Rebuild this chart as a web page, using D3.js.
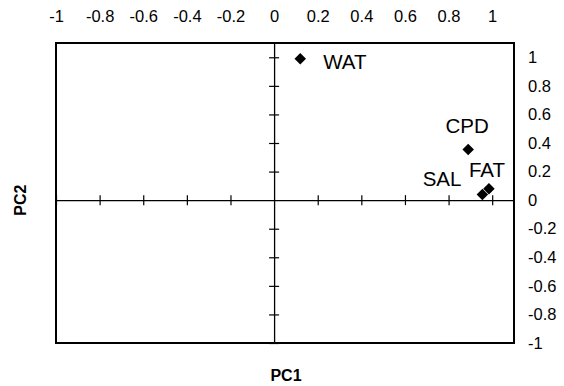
<!DOCTYPE html>
<html>
<head>
<meta charset="utf-8">
<script src="https://cdn.jsdelivr.net/npm/d3@7"></script>
<style>
  body { margin: 0; background: #fff; }
  svg text { font-family: "Liberation Sans", Arial, sans-serif; fill: #000; }
</style>
</head>
<body>
<div id="chart"></div>
<script>
// loadings on PC1 / PC2
const names = ["WAT", "CPD", "FAT", "SAL"]
const pc1 = [0.12, 0.89, 0.985, 0.955]
const pc2 = [0.99, 0.355, 0.08, 0.04]
const tickValues = [-1, -0.8, -0.6, -0.4, -0.2, 0, 0.2, 0.4, 0.6, 0.8, 1]

// where each label sits relative to its marker
const labelLayout = {
    WAT: {dx: 23, dy: 10, anchor: "start"},
    CPD: {dx: -1, dy: -16, anchor: "middle"},
    FAT: {dx: -20, dy: -12, anchor: "start"},
    SAL: {dx: -21, dy: -8, anchor: "end"}
}

const width = 564, height = 386
const margin = {top: 43, right: 50, bottom: 43, left: 56}

const svg = d3.select("#chart").append("svg")
    .attr("width", width).attr("height", height)

const x = d3.scaleLinear().domain([-1, 1.1]).range([margin.left, width - margin.right])
const y = d3.scaleLinear().domain([-1, 1.1]).range([height - margin.bottom, margin.top])

const fmt = d => String(d) // plain hyphen minus like the original

// zero axes with crossing ticks
const xZero = g => g
    .attr("transform", `translate(0,${y(0)})`)
    .call(d3.axisBottom(x).tickValues(tickValues.filter(d => d !== 0)).tickSize(5).tickSizeOuter(0).tickFormat(""))
    .call(g => g.select(".domain").attr("stroke-width", 1.3))
    .call(g => g.selectAll(".tick line").attr("y1", -5).attr("stroke-width", 1.2))

const yZero = g => g
    .attr("transform", `translate(${x(0)},0)`)
    .call(d3.axisLeft(y).tickValues(tickValues.filter(d => d !== 0)).tickSize(5).tickSizeOuter(0).tickFormat(""))
    .call(g => g.select(".domain").attr("stroke-width", 1.3))
    .call(g => g.selectAll(".tick line").attr("x1", 5).attr("stroke-width", 1.2))

svg.append("g").call(xZero)
svg.append("g").call(yZero)

// tick labels: top and right, outside the frame
const topAxis = g => g
    .attr("transform", `translate(0,22)`)
    .call(d3.axisTop(x).tickValues(tickValues).tickSize(0).tickPadding(0).tickFormat(fmt))
    .call(g => g.select(".domain").remove())
    .call(g => g.selectAll("text").attr("font-size", 16.5).attr("font-family", null))

const rightAxis = g => g
    .attr("transform", `translate(528,0)`)
    .call(d3.axisRight(y).tickValues(tickValues).tickSize(0).tickPadding(0).tickFormat(fmt))
    .call(g => g.select(".domain").remove())
    .call(g => g.selectAll("text").attr("font-size", 16.5).attr("font-family", null))

svg.append("g").call(topAxis)
svg.append("g").call(rightAxis)

// frame
svg.append("rect")
    .attr("x", x(-1)).attr("y", y(1.1))
    .attr("width", x(1.1) - x(-1)).attr("height", y(-1) - y(1.1))
    .attr("fill", "none").attr("stroke", "#000").attr("stroke-width", 2)

// points
const pts = names.map((n, i) => ({name: n, px: pc1[i], py: pc2[i]}))

svg.append("g").selectAll("path")
    .data(pts)
    .join("path")
    .attr("d", d3.symbol(d3.symbolSquare, 66))
    .attr("transform", d => `translate(${x(d.px)},${y(d.py)}) rotate(45)`)
    .attr("fill", "#000")

svg.append("g").selectAll("text")
    .data(pts)
    .join("text")
    .attr("x", d => x(d.px) + labelLayout[d.name].dx)
    .attr("y", d => y(d.py) + labelLayout[d.name].dy)
    .attr("text-anchor", d => labelLayout[d.name].anchor)
    .attr("font-size", 20.5)
    .text(d => d.name)

// axis titles
svg.append("text")
    .attr("x", 286).attr("y", 381)
    .attr("text-anchor", "middle")
    .attr("font-size", 16).attr("font-weight", "bold")
    .text("PC1")

svg.append("text")
    .attr("transform", `translate(26,${y(0)}) rotate(-90)`)
    .attr("text-anchor", "middle")
    .attr("font-size", 16).attr("font-weight", "bold")
    .text("PC2")
</script>
</body>
</html>
